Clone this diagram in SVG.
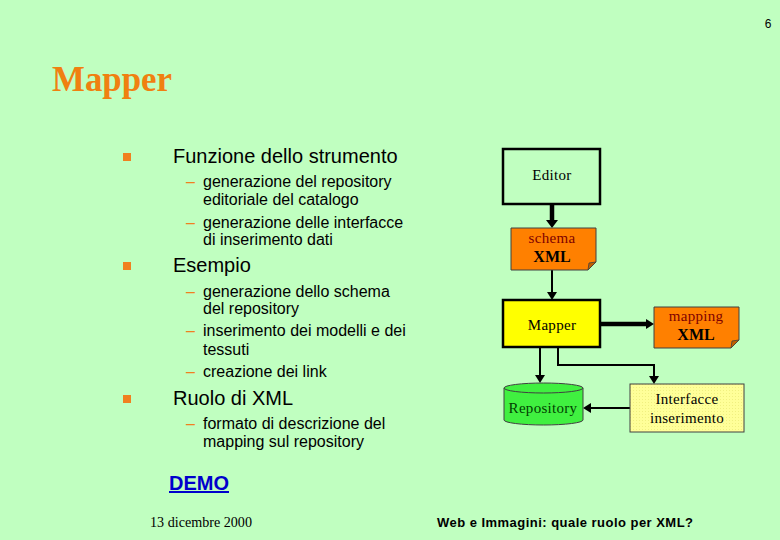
<svg xmlns="http://www.w3.org/2000/svg" width="780" height="540" viewBox="0 0 780 540">
<defs>
<pattern id="dots" width="3" height="3" patternUnits="userSpaceOnUse">
<rect width="3" height="3" fill="#ffff99"/>
<rect width="1" height="1" fill="#f0f080"/>
</pattern>
</defs>
<style>
.t{font-family:"Liberation Sans",Arial,sans-serif;fill:#000}
.h{font-size:20px}
.s{font-size:16px}
.n{font-family:"Liberation Serif","Times New Roman",serif;font-size:15px;fill:#000;text-anchor:middle;letter-spacing:0.3px}
.x{font-family:"Liberation Serif","Times New Roman",serif;font-size:16px;font-weight:bold;fill:#000;text-anchor:middle}
.dash{fill:#f08020}
.bul{fill:#f08020}
.ln{stroke:#000;stroke-width:2;fill:none}
.thk{stroke:#000;stroke-width:4.5;fill:none}
.ah{fill:#000}
</style>
<rect width="780" height="540" fill="#c0ffc0"/>
<text x="768" y="28" font-family="Liberation Sans,Arial,sans-serif" font-size="12" fill="#000" text-anchor="middle">6</text>
<text x="52" y="91" font-family="Liberation Serif,'Times New Roman',serif" font-size="36" font-weight="bold" fill="#f08010" textLength="120" lengthAdjust="spacingAndGlyphs">Mapper</text>

<g id="text-list">
<rect class="bul" x="123" y="153" width="8" height="8"/>
<text class="t h" x="173" y="163">Funzione dello strumento</text>
<text class="t s dash" x="186" y="187">–</text>
<text class="t s" x="203" y="187">generazione del repository</text>
<text class="t s" x="203" y="205">editoriale del catalogo</text>
<text class="t s dash" x="186" y="228">–</text>
<text class="t s" x="203" y="228">generazione delle interfacce</text>
<text class="t s" x="203" y="245">di inserimento dati</text>
<rect class="bul" x="123" y="262" width="8" height="8"/>
<text class="t h" x="173" y="272">Esempio</text>
<text class="t s dash" x="186" y="297">–</text>
<text class="t s" x="203" y="297">generazione dello schema</text>
<text class="t s" x="203" y="314">del repository</text>
<text class="t s dash" x="186" y="336">–</text>
<text class="t s" x="203" y="336">inserimento dei modelli e dei</text>
<text class="t s" x="203" y="355">tessuti</text>
<text class="t s dash" x="186" y="377">–</text>
<text class="t s" x="203" y="377">creazione dei link</text>
<rect class="bul" x="123" y="395" width="8" height="8"/>
<text class="t h" x="173" y="405">Ruolo di XML</text>
<text class="t s dash" x="186" y="429">–</text>
<text class="t s" x="203" y="429">formato di descrizione del</text>
<text class="t s" x="203" y="447">mapping sul repository</text>
</g>

<g id="demo">
<text x="169" y="490" font-family="Liberation Sans,Arial,sans-serif" font-size="20" font-weight="bold" fill="#0000cc" text-decoration="underline">DEMO</text>
</g>
<text x="150" y="527" font-family="Liberation Serif,'Times New Roman',serif" font-size="14" fill="#000" textLength="102" lengthAdjust="spacingAndGlyphs">13 dicembre 2000</text>
<text x="437" y="527" font-family="Liberation Sans,Arial,sans-serif" font-size="13" font-weight="bold" fill="#000" textLength="256">Web e Immagini: quale ruolo per XML?</text>

<g id="connectors">
<line class="thk" x1="552" y1="205" x2="552" y2="221"/>
<path class="ah" d="M546,220 L558,220 L552,228 z"/>
<line class="ln" x1="552" y1="270" x2="552" y2="293"/>
<path class="ah" d="M547,292 L557,292 L552,300 z"/>
<line class="thk" x1="601" y1="324" x2="647" y2="324"/>
<path class="ah" d="M646,319 L654,324 L646,329 z"/>
<line class="ln" x1="540" y1="348" x2="540" y2="376"/>
<path class="ah" d="M535,375 L545,375 L540,383 z"/>
<polyline class="ln" points="558,348 558,365 654,365 654,377"/>
<path class="ah" d="M649,376 L659,376 L654,384 z"/>
<line class="ln" x1="630" y1="408" x2="590" y2="408"/>
<path class="ah" d="M591,403 L591,413 L583,408 z"/>
</g>

<g id="editor">
<rect x="503" y="149" width="97" height="55" fill="#c0ffc0" stroke="#000" stroke-width="2.5"/>
<text class="n" x="552" y="180">Editor</text>
</g>

<g id="schema">
<path d="M511,228 H596 V262 L588,270 H511 Z" fill="#ff8000" stroke="#404040" stroke-width="1"/>
<path d="M588,270 L589,263 L596,262 Z" fill="#c06000" stroke="#404040" stroke-width="0.8"/>
<text class="n" x="552" y="243" style="fill:#800000">schema</text>
<text class="x" x="552" y="262">XML</text>
</g>

<g id="mapper">
<rect x="503" y="300" width="97" height="47" fill="#ffff00" stroke="#000" stroke-width="2.5"/>
<text class="n" x="552" y="330">Mapper</text>
</g>

<g id="mappingxml">
<path d="M654,307 H739 V340 L731,348 H654 Z" fill="#ff8000" stroke="#404040" stroke-width="1"/>
<path d="M731,348 L732,341 L739,340 Z" fill="#c06000" stroke="#404040" stroke-width="0.8"/>
<text class="n" x="696" y="321" style="fill:#800000">mapping</text>
<text class="x" x="696" y="340">XML</text>
</g>

<g id="repository">
<path d="M504,388 V420 A39.5,5 0 0 0 583,420 V388" fill="#40f040" stroke="#404040" stroke-width="1"/>
<ellipse cx="543.5" cy="388" rx="39.5" ry="5" fill="#40f040" stroke="#404040" stroke-width="1"/>
<text class="n" x="543" y="413" style="fill:#004000">Repository</text>
</g>

<g id="interfacce">
<rect x="630" y="384" width="114" height="48" fill="url(#dots)" stroke="#404040" stroke-width="1"/>
<text class="n" x="687" y="404">Interfacce</text>
<text class="n" x="687" y="423">inserimento</text>
</g>
</svg>
